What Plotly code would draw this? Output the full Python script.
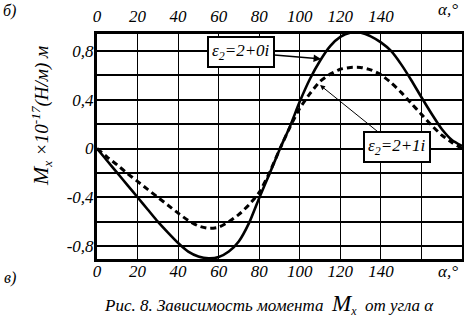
import plotly.graph_objects as go

# angle alpha, degrees
alpha = [0, 5, 10, 15, 20, 25, 30, 35, 40, 45, 50, 55, 60, 65, 70, 75, 80, 85, 90,
         95, 100, 105, 110, 115, 120, 125, 130, 135, 140, 145, 150, 155, 160, 165,
         170, 175, 180]
# eps2 = 2+0i (solid)
m_solid = [0.0, -0.1, -0.2, -0.3, -0.4, -0.5, -0.6, -0.69, -0.775, -0.845, -0.885, -0.9,
           -0.89, -0.845, -0.76, -0.61, -0.405, -0.21, -0.01, 0.175, 0.385, 0.57, 0.72,
           0.84, 0.915, 0.95, 0.95, 0.92, 0.87, 0.8, 0.69, 0.56, 0.42, 0.285, 0.16,
           0.07, 0.02]
# eps2 = 2+1i (dashed)
m_dash = [0.0, -0.07, -0.135, -0.205, -0.27, -0.335, -0.4, -0.465, -0.53, -0.59, -0.635,
          -0.655, -0.645, -0.6, -0.54, -0.46, -0.36, -0.2, -0.01, 0.17, 0.33, 0.45, 0.55,
          0.61, 0.65, 0.665, 0.665, 0.645, 0.605, 0.54, 0.46, 0.37, 0.28, 0.19, 0.11,
          0.05, 0.0]

x_grid = [0, 20, 40, 60, 80, 100, 120, 140, 160, 180]
x_text = ["0", "20", "40", "60", "80", "100", "120", "140", "", ""]
x_top_vals = [0, 20, 40, 60, 80, 100, 120, 140]
x_top_text = ["0", "20", "40", "60", "80", "100", "120", "140"]
y_grid = [-0.8, -0.6, -0.4, -0.2, 0, 0.2, 0.4, 0.6, 0.8]
y_text = ["-0,8", "", "-0,4", "", "0", "", "0,4", "", "0,8"]

label_solid = "ε<sub>2</sub>=2+0i"
label_dash = "ε<sub>2</sub>=2+1i"

SERIF = "Liberation Serif"
tfont = dict(family=SERIF, size=17, color="black", style="italic")


def px_x(p):
    return (p - 97) / 365


def px_y(p):
    return (259 - p) / 225


fig = go.Figure()
fig.add_trace(go.Scatter(x=alpha, y=m_solid, mode="lines",
                         line=dict(color="black", width=2.6, shape="spline", smoothing=0.6),
                         hoverinfo="skip", showlegend=False))
fig.add_trace(go.Scatter(x=alpha, y=m_dash, mode="lines",
                         line=dict(color="black", width=3, dash="6px,4px", shape="spline", smoothing=0.6),
                         hoverinfo="skip", showlegend=False))
# carrier for the top axis
fig.add_trace(go.Scatter(x=alpha, y=m_solid, mode="lines", xaxis="x2",
                         line=dict(color="rgba(0,0,0,0)", width=0),
                         hoverinfo="skip", showlegend=False))

fig.update_layout(
    width=464, height=319,
    font=dict(family=SERIF, color="black"),
    margin=dict(l=97, r=2, t=34, b=60, autoexpand=False),
    paper_bgcolor="white", plot_bgcolor="white",
    xaxis=dict(range=[0, 180], tickvals=x_grid, ticktext=x_text, automargin=False,
               showgrid=True, gridcolor="black", gridwidth=1.3,
               zeroline=False, showline=True, linecolor="black", linewidth=3,
               mirror=True, ticks="", ticklabelstandoff=-5, tickfont=tfont),
    xaxis2=dict(range=[0, 180], overlaying="x", side="top", automargin=False,
                tickvals=x_top_vals, ticktext=x_top_text,
                showgrid=False, zeroline=False, showline=False,
                ticks="", ticklabelstandoff=8, tickfont=tfont),
    yaxis=dict(range=[-0.906, 0.939], tickvals=y_grid, ticktext=y_text, automargin=False,
               showgrid=True, gridcolor="black", gridwidth=2,
               zeroline=False, showline=True, linecolor="black", linewidth=3,
               mirror=True, ticks="", ticklabelstandoff=-3, tickfont=tfont),
)

ann = []
ann.append(dict(x=110.5, y=0.735, ax=71.2, ay=0.79, xref="x", yref="y", axref="x", ayref="y",
                text=label_solid, showarrow=True, arrowhead=2, arrowsize=1, arrowwidth=1.5,
                arrowcolor="black", bgcolor="white", bordercolor="black", borderwidth=2,
                borderpad=3, font=dict(family=SERIF, size=17, color="black", style="italic")))
ann.append(dict(x=110, y=0.52, ax=148, ay=0.01, xref="x", yref="y", axref="x", ayref="y",
                text=label_dash, showarrow=True, arrowhead=2, arrowsize=1, arrowwidth=1,
                arrowcolor="black", bgcolor="white", bordercolor="black", borderwidth=2,
                borderpad=3, font=dict(family=SERIF, size=17, color="black", style="italic")))
C = dict(xanchor="center", yanchor="middle", xref="paper", yref="paper", showarrow=False)
ann.append(dict(x=px_x(9), y=px_y(11), text="б)",
                font=dict(family=SERIF, size=16, color="black", style="italic"), **C))
ann.append(dict(x=px_x(10), y=px_y(278), text="в)",
                font=dict(family=SERIF, size=16, color="black", style="italic"), **C))
ann.append(dict(x=px_x(448), y=px_y(10), text="α,°", font=tfont, **C))
ann.append(dict(x=px_x(448), y=px_y(271), text="α,°", font=tfont, **C))
ann.append(dict(x=px_x(269), y=px_y(304),
                text="Рис. 8. Зависимость момента  <span style='font-size:23px'>M</span><sub>x</sub>  от угла α",
                font=dict(family=SERIF, size=17, color="black", style="italic"), **C))
ann.append(dict(x=px_x(41), y=px_y(116),
                text="<span style='font-size:22px'>M</span><sub>x</sub> ×10<sup>-17</sup>(Н/м) м",
                textangle=-90,
                font=dict(family=SERIF, size=19, color="black", style="italic"), **C))
fig.update_layout(annotations=ann)

fig.write_html("out.html", config={"displayModeBar": False},
               post_script="document.body.style.margin='0';")
